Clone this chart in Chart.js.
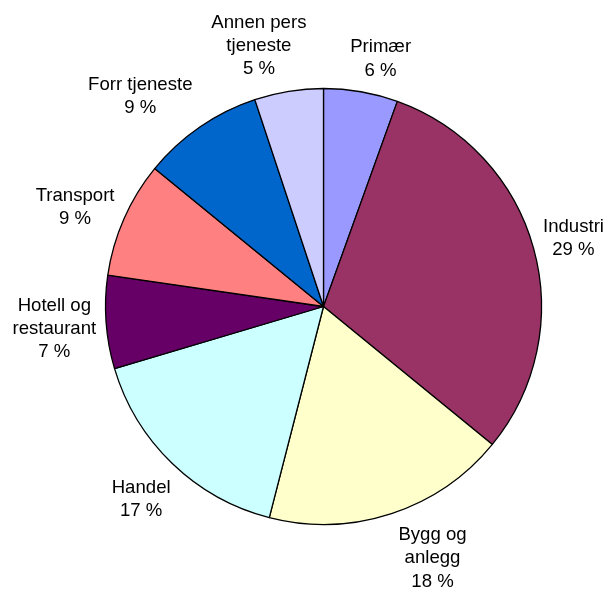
<!DOCTYPE html>
<html>
<head>
<meta charset="utf-8">
<script src="https://cdn.jsdelivr.net/npm/chart.js@4.4.0/dist/chart.umd.min.js"></script>
<style>
  body { margin: 0; background: #fff; }
  canvas { display: block; }
</style>
</head>
<body>
<canvas id="pie" width="605" height="590"></canvas>
<script>
// sectors, clockwise from 12 o'clock
const sectors = ['Primær', 'Industri', 'Bygg og anlegg', 'Handel', 'Hotell og restaurant', 'Transport', 'Forr tjeneste', 'Annen pers tjeneste'];
const shares = [5.5, 30.4, 18.1, 16.4, 6.9, 8.6, 9.0, 5.1];
const shareLabels = ['6 %', '29 %', '18 %', '17 %', '7 %', '9 %', '9 %', '5 %'];
// how each sector name is broken over lines
const nameLines = [['Primær'], ['Industri'], ['Bygg og', 'anlegg'], ['Handel'], ['Hotell og', 'restaurant'], ['Transport'], ['Forr tjeneste'], ['Annen pers', 'tjeneste']];
const colours = ['#9999FF', '#993366', '#FFFFCC', '#CCFFFF', '#660066', '#FF8080', '#0066CC', '#CCCCFF'];

const FONT = '18.6px "Liberation Sans", Arial, sans-serif';
const LINE_H = 23.4;

const outsideLabels = {// text boxes outside each slice, pushed out along the middle angle
    id: 'outsideLabels',
    afterDatasetsDraw(chart, args, opts) {
        const ctx = chart.ctx;
        const arcs = chart.getDatasetMeta(0).data;
        const nudge = opts.nudge || [];
        ctx.save();
        ctx.font = FONT;
        ctx.fillStyle = '#000';
        ctx.textAlign = 'center';
        ctx.textBaseline = 'middle';
        arcs.forEach((arc, i) => {
            const p = arc.getProps(['x', 'y', 'startAngle', 'endAngle', 'outerRadius']);
            const mid = (p.startAngle + p.endAngle) / 2;
            const lines = nameLines[i].concat([shareLabels[i]]);
            const w = Math.max(...lines.map(l => ctx.measureText(l).width));
            const h = lines.length * LINE_H;
            const r = p.outerRadius + 14;
            const [nx, ny] = nudge[i] || [0, 0];//excel moved some labels a bit
            const cx = p.x + Math.cos(mid) * r + Math.cos(mid) * w / 2 + nx;
            const cy = p.y + Math.sin(mid) * r + Math.sin(mid) * h / 2 + ny;
            lines.forEach((l, k) => {
                ctx.fillText(l, cx, cy - h / 2 + LINE_H * (k + 0.5));
            });
        });
        ctx.restore();
    }
};

new Chart(document.getElementById('pie'), {
    type: 'pie',
    data: {
        labels: sectors,
        datasets: [{
            data: shares,
            backgroundColor: colours,
            borderColor: '#000',
            borderWidth: 1.3,
            radius: 218
        }]
    },
    options: {
        responsive: false,
        animation: false,
        layout: { padding: { left: 62, right: 20, top: 40, bottom: 17 } },
        plugins: {
            legend: { display: false },
            tooltip: { enabled: false },
            outsideLabels: {
                nudge: [[12, 4], [-3, 0], [26, -2], [-1, 9], [4, 3], [0, 4], [-22, 0], [-20, 3]]
            }
        }
    },
    plugins: [outsideLabels]
});
</script>
</body>
</html>
